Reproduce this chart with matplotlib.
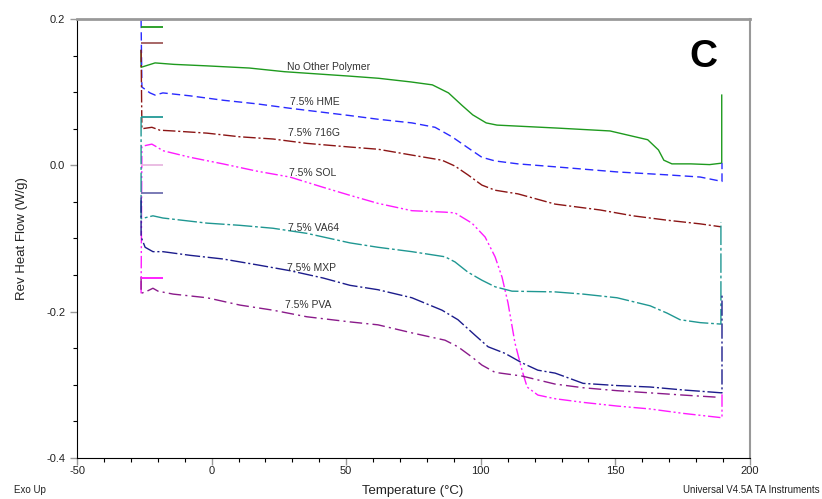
import numpy as np
import matplotlib
matplotlib.use("Agg")
import matplotlib.pyplot as plt
from matplotlib.ticker import MultipleLocator

plt.rcParams['font.family'] = ['Liberation Sans', 'DejaVu Sans']
plt.rcParams['axes.unicode_minus'] = False

# curves (temperature in C, rev heat flow in W/g)
t_none = [-26.2, -26.2, -21, -14, -2, 14, 27, 51, 62, 74, 82, 88, 93, 97, 102, 106, 128, 148, 155, 162, 166, 168, 171, 178, 185, 189.5, 189.5]
v_none = [0.157, 0.134, 0.140, 0.138, 0.136, 0.133, 0.128, 0.122, 0.119, 0.114, 0.110, 0.099, 0.082, 0.069, 0.058, 0.055,
          0.051, 0.047, 0.041, 0.035, 0.021, 0.007, 0.002, 0.002, 0.001, 0.003, 0.096]

t_hme = [-26.2, -25.9, -22.9, -21, -18.1, -8, 4.2, 16.9, 29.1, 51.4, 61.8, 74.4, 83, 89.3, 95.2, 100.4, 105.3, 113.8,
         127.6, 150.6, 169.2, 181.5, 189.6, 189.6]
v_hme = [0.199, 0.107, 0.099, 0.096, 0.099, 0.095, 0.089, 0.084, 0.078, 0.068, 0.063, 0.058, 0.052, 0.039, 0.024,
         0.011, 0.006, 0.002, -0.002, -0.009, -0.013, -0.016, -0.022, 0.003]

t_716g = [-26.2, -25.9, -22.2, -19.2, -14.3, -1.7, 10.5, 22.8, 35.4, 51.4, 61.8, 74.4, 85.6, 90.4, 95.2, 100.4, 105.3,
          113.8, 127.6, 144.3, 156.5, 169.2, 181.5, 189.2]
v_716g = [0.158, 0.050, 0.052, 0.048, 0.047, 0.044, 0.039, 0.036, 0.030, 0.025, 0.022, 0.014, 0.007, -0.001, -0.013,
          -0.027, -0.034, -0.039, -0.053, -0.061, -0.069, -0.075, -0.080, -0.084]

t_sol = [-26.2, -25.9, -22.2, -20.3, -18.1, -8, 4.2, 16.9, 29.1, 41.4, 51.4, 61.8, 74.4, 86.7, 90.4, 96.7, 101.6,
         105.3, 107.9, 110.1, 112.7, 115.3, 117.2, 121.2, 127.6, 138, 150.6, 162.9, 175.1, 189.6, 189.6]
v_sol = [-0.175, 0.026, 0.029, 0.025, 0.020, 0.011, 0.002, -0.008, -0.016, -0.030, -0.041, -0.052, -0.062, -0.064,
         -0.065, -0.079, -0.098, -0.125, -0.153, -0.188, -0.243, -0.280, -0.303, -0.314, -0.319, -0.324, -0.329,
         -0.333, -0.339, -0.345, -0.310]

t_va64 = [-26.2, -26.2, -21.8, -18.1, -1.7, 10.5, 22.8, 35.4, 51.4, 61.8, 74.4, 86.7, 90.4, 95.2, 100.4, 105.3, 111.6,
          127.6, 138, 150.6, 162.9, 169.2, 174, 181.5, 189.2, 189.2]
v_va64 = [0.066, -0.073, -0.069, -0.072, -0.079, -0.082, -0.086, -0.093, -0.106, -0.112, -0.118, -0.125, -0.132,
          -0.146, -0.157, -0.166, -0.172, -0.173, -0.176, -0.181, -0.192, -0.202, -0.211, -0.215, -0.217, -0.078]

t_mxp = [-26.2, -26.2, -24.7, -21.8, -18.1, -8, 4.2, 16.9, 29.1, 41.4, 51.4, 61.8, 74.4, 85.6, 91.5, 97.8, 102.7,
         109, 115.3, 121.2, 127.6, 132.1, 138, 150.6, 162.9, 175.1, 189.6, 189.6]
v_mxp = [-0.044, -0.098, -0.112, -0.118, -0.118, -0.123, -0.128, -0.136, -0.144, -0.154, -0.164, -0.170, -0.181,
         -0.198, -0.211, -0.232, -0.248, -0.257, -0.270, -0.280, -0.284, -0.290, -0.298, -0.301, -0.303, -0.307,
         -0.311, -0.175]

t_pva = [-26.2, -26.2, -24, -21.8, -19.9, -14.3, -1.7, 10.5, 22.8, 35.4, 51.4, 61.8, 74.4, 86.7, 91.5, 96.7, 100.4,
         105.3, 115.3, 127.6, 138, 150.6, 162.9, 175.1, 188.1]
v_pva = [-0.153, -0.175, -0.172, -0.168, -0.172, -0.176, -0.181, -0.191, -0.198, -0.207, -0.214, -0.218, -0.229,
         -0.239, -0.248, -0.262, -0.273, -0.283, -0.288, -0.299, -0.304, -0.308, -0.311, -0.314, -0.317]

labels = ["No Other Polymer", "7.5% HME", "7.5% 716G", "7.5% SOL", "7.5% VA64", "7.5% MXP", "7.5% PVA"]
label_x = [329, 315, 314, 313, 313, 311, 308]
label_y = [0.135, 0.087, 0.044, -0.010, -0.085, -0.140, -0.191]

# short curve markers at the left edge
mark_vals = [0.199, 0.189, 0.167, 0.066, 0.000, -0.038, -0.154]
mark_cols = ["#3030ff", "#1e9a1e", "#a05a5a", "#239a96", "#e8b8e0", "#7070b0", "#ff10ff"]

curves = [
    (t_none, v_none, "#1e9a1e", "-"),
    (t_hme, v_hme, "#2a2aff", (0, (6, 3))),
    (t_716g, v_716g, "#8b1515", (0, (9, 2, 1.5, 2))),
    (t_sol, v_sol, "#ff1aff", (0, (9, 2, 1.5, 2, 1.5, 2))),
    (t_va64, v_va64, "#1f9792", (0, (14, 2, 2, 2))),
    (t_mxp, v_mxp, "#1c1c8c", (0, (11, 2, 1.5, 2))),
    (t_pva, v_pva, "#8a1a8a", (0, (9, 3, 1.5, 3))),
]

fig = plt.figure(figsize=(8.22, 4.99), dpi=100)
ax = fig.add_axes([0.0937, 0.0822, 0.8187, 0.8797])

for t, v, c, ls in curves:
    ax.plot(t, v, color=c, linestyle=ls, linewidth=1.0)

for val, c in zip(mark_vals, mark_cols):
    ax.hlines(val, -26.2, -17.9, color=c, linewidth=1.3)

for lab, x, y in zip(labels, label_x, label_y):
    ax.text((x - 211.6) / 2.692, y, lab, fontsize=7.5, color="#333333", ha="center", va="center")

ax.set_xlim(-50, 200)
ax.set_ylim(-0.4, 0.2)
ax.xaxis.set_major_locator(MultipleLocator(50))
ax.xaxis.set_minor_locator(MultipleLocator(10))
ax.yaxis.set_minor_locator(MultipleLocator(0.05))
ax.set_yticks([0.2, 0.0, -0.2, -0.4])
ax.set_yticklabels(["0.2", "0.0", "-0.2", "-0.4"])
ax.tick_params(axis="both", which="major", length=5, width=1, color="#999999", labelsize=8, labelcolor="#222222")
ax.tick_params(axis="both", which="minor", length=3, width=0.8, color="black")
ax.tick_params(axis="x", which="major", pad=1)

ax.spines["top"].set_color("#999999")
ax.spines["top"].set_linewidth(2)
ax.spines["right"].set_color("#999999")
ax.spines["right"].set_linewidth(1.5)
ax.spines["left"].set_color("black")
ax.spines["bottom"].set_color("black")

ax.set_ylabel("Rev Heat Flow (W/g)", fontsize=9.5, color="#222222", labelpad=13)

fig.text(413 / 822, 1 - 491 / 499, "Temperature (°C)", fontsize=9.5, color="#222222", ha="center", va="center")
fig.text(30 / 822, 1 - 490 / 499, "Exo Up", fontsize=7, color="#222222", ha="center", va="center")
fig.text(820 / 822, 1 - 490 / 499, "Universal V4.5A TA Instruments", fontsize=7, color="#222222", ha="right", va="center")
fig.text(703 / 822, 1 - 57 / 499, "C", fontsize=28, fontweight="bold", ha="center", va="center")

fig.savefig("out.png", dpi=100)
